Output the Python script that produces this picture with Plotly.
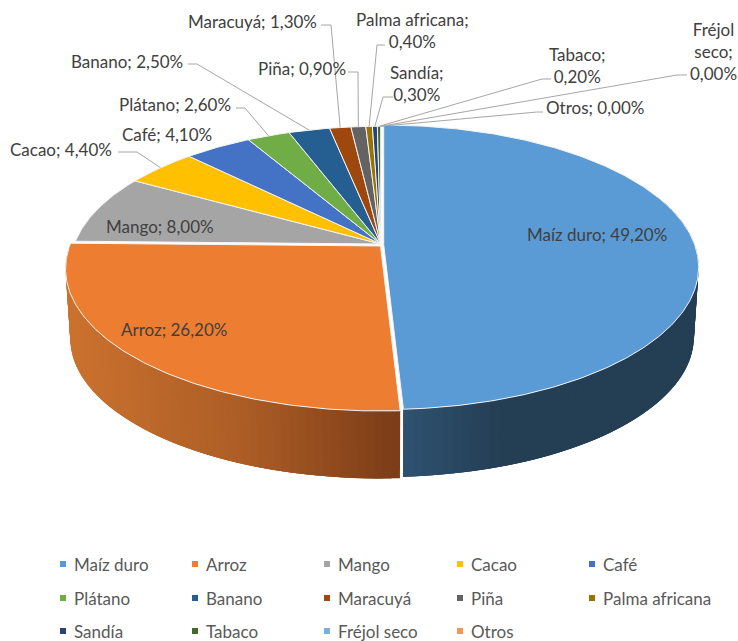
import numpy as np
import plotly.graph_objects as go

categories = ["Maíz duro", "Arroz", "Mango", "Cacao", "Café", "Plátano", "Banano",
              "Maracuyá", "Piña", "Palma africana", "Sandía", "Tabaco", "Fréjol seco", "Otros"]
values = [49.2, 26.2, 8.0, 4.4, 4.1, 2.6, 2.5, 1.3, 0.9, 0.4, 0.3, 0.2, 0.0, 0.0]
colors = ["#5B9BD5", "#ED7D31", "#A5A5A5", "#FFC000", "#4472C4", "#70AD47", "#255E91",
          "#9E480E", "#636363", "#997300", "#264478", "#43682B", "#7CAFDD", "#F1975A"]
label_text = [f"{c}; {v:.2f}%".replace(".", ",") for c, v in zip(categories, values)]
label_text[9] = "Palma africana;<br>0,40%"
label_text[10] = "Sandía;<br>0,30%"
label_text[11] = "Tabaco;<br>0,20%"
label_text[12] = "Fréjol<br>seco;<br>0,00%"

# projection of the pie
CX, CY, F, G, K = 381.5, 244.5, 310.9, 138.6, 0.16
DEPTH, BOT_SCALE = 70.0, 0.985
# (dx, dy, scale) per slice
offset = {0: (2.2, 0.0, 1.0), 1: (-1.0, 1.5, 1.0)}
DEFAULT_OFFSET = (-0.8, -0.5, 0.985)

# label centre (x, y) and leader (label end, elbow)
label_pos = [(597, 234), (174, 329), (160, 226), (60.5, 149), (166.5, 134), (174.5, 104),
             (127, 61), (252, 21), (302, 68), (412, 30), (417, 83), (577, 65), (713, 51), (595, 107)]
leaders = {3: [(118, 152), (137, 152)], 5: [(236, 108), (245, 108)], 6: [(188, 64), (197, 64)],
           7: [(321, 25), (331, 25)], 8: [(348, 72), (358, 72)], 9: [(385, 45), (377, 45)],
           10: [(393, 97), (383, 97)], 11: [(551, 79), (542, 79)], 12: [(687, 75), (677, 75)],
           13: [(543, 112), (537, 112)]}
legend_x = [63, 195, 327, 460, 592]
legend_y = [564, 598, 631]
TXT = "Lato, 'Noto Sans', sans-serif"


def project(theta, off=(0, 0, 1), bottom=False):
    u, v = np.sin(theta), -np.cos(theta)
    d = 1 - K * v
    X, Y = F * u / d * off[2], G * v / d * off[2]
    if bottom:
        X, Y = X * BOT_SCALE, Y * BOT_SCALE + DEPTH
    return CX + off[0] + X, CY + off[1] + Y


def lerp(stops, x):
    xs = [s[0] for s in stops]
    return "rgb(" + ",".join(str(int(np.interp(x, xs, [s[1][i] for s in stops]))) for i in range(3)) + ")"


cum = np.cumsum([0] + values) / sum(values) * 2 * np.pi
fig = go.Figure()


def wall(t0, t1, off, stops, n=70):
    # each band overlaps the next one so that no seams show
    edges = np.linspace(t0, t1, n + 1)
    for i in range(n):
        th = np.linspace(edges[i], edges[min(i + 3, n)], 4)
        xt, yt = project(th, off)
        xb, yb = project(th[::-1], off, bottom=True)
        col = lerp(stops, float(project(edges[i], off)[0]))
        fig.add_trace(go.Scatter(x=list(xt) + list(xb), y=list(yt) + list(yb), mode="lines", fill="toself",
                                 fillcolor=col, line=dict(width=0), hoverinfo="skip", showlegend=False))


wall(cum[0] + 1.2, cum[1], offset[0], [(403, (48, 84, 115)), (510, (36, 62, 84)), (700, (36, 62, 84))])
wall(cum[1], cum[2], offset[1], [(70, (203, 114, 47)), (250, (172, 93, 38)), (400, (124, 61, 24))])

for i, (name, col) in enumerate(zip(categories, colors)):
    if values[i] <= 0:
        continue
    off = offset.get(i, DEFAULT_OFFSET)
    th = np.linspace(cum[i], cum[i + 1], max(2, int(values[i] * 6)))
    x, y = project(th, off)
    fig.add_trace(go.Scatter(x=[CX + off[0]] + list(x) + [CX + off[0]], y=[CY + off[1]] + list(y) + [CY + off[1]],
                             mode="lines", fill="toself", fillcolor=col, line=dict(color="#F4F4F4", width=1),
                             name=name, hoverinfo="name", showlegend=False))

# leader lines
for i, pts in leaders.items():
    mid = (cum[i] + cum[i + 1]) / 2
    ex, ey = project(mid, DEFAULT_OFFSET)
    fig.add_trace(go.Scatter(x=[p[0] for p in pts] + [float(ex)], y=[p[1] for p in pts] + [float(ey)], mode="lines",
                             line=dict(color="#A6A6A6", width=1), hoverinfo="skip", showlegend=False))

annotations = []
for t, (x, y) in zip(label_text, label_pos):
    annotations.append(dict(x=x, y=y, xref="x", yref="y", text=t, showarrow=False, xanchor="center", yanchor="middle",
                            align="center", font=dict(family=TXT, size=17, color="#404040")))

# legend
for i, (name, col) in enumerate(zip(categories, colors)):
    lx, ly = legend_x[i % 5], legend_y[i // 5]
    fig.add_trace(go.Scatter(x=[lx], y=[ly], mode="markers", marker=dict(symbol="square", size=6, color=col),
                             name=name, hoverinfo="name", showlegend=False))
    annotations.append(dict(x=lx + 9, y=ly, xref="x", yref="y", text=name, showarrow=False, xanchor="left",
                            yanchor="middle", font=dict(family=TXT, size=17, color="#595959")))

fig.update_layout(width=738, height=641, margin=dict(l=0, r=0, t=0, b=0), paper_bgcolor="white", plot_bgcolor="white",
                  xaxis=dict(range=[0, 738], visible=False, fixedrange=True),
                  yaxis=dict(range=[641, 0], visible=False, fixedrange=True),
                  annotations=annotations, showlegend=False)
fig.write_html("out.html", post_script="document.body.style.margin='0';document.body.style.overflow='hidden';",
               config={"displayModeBar": False})
